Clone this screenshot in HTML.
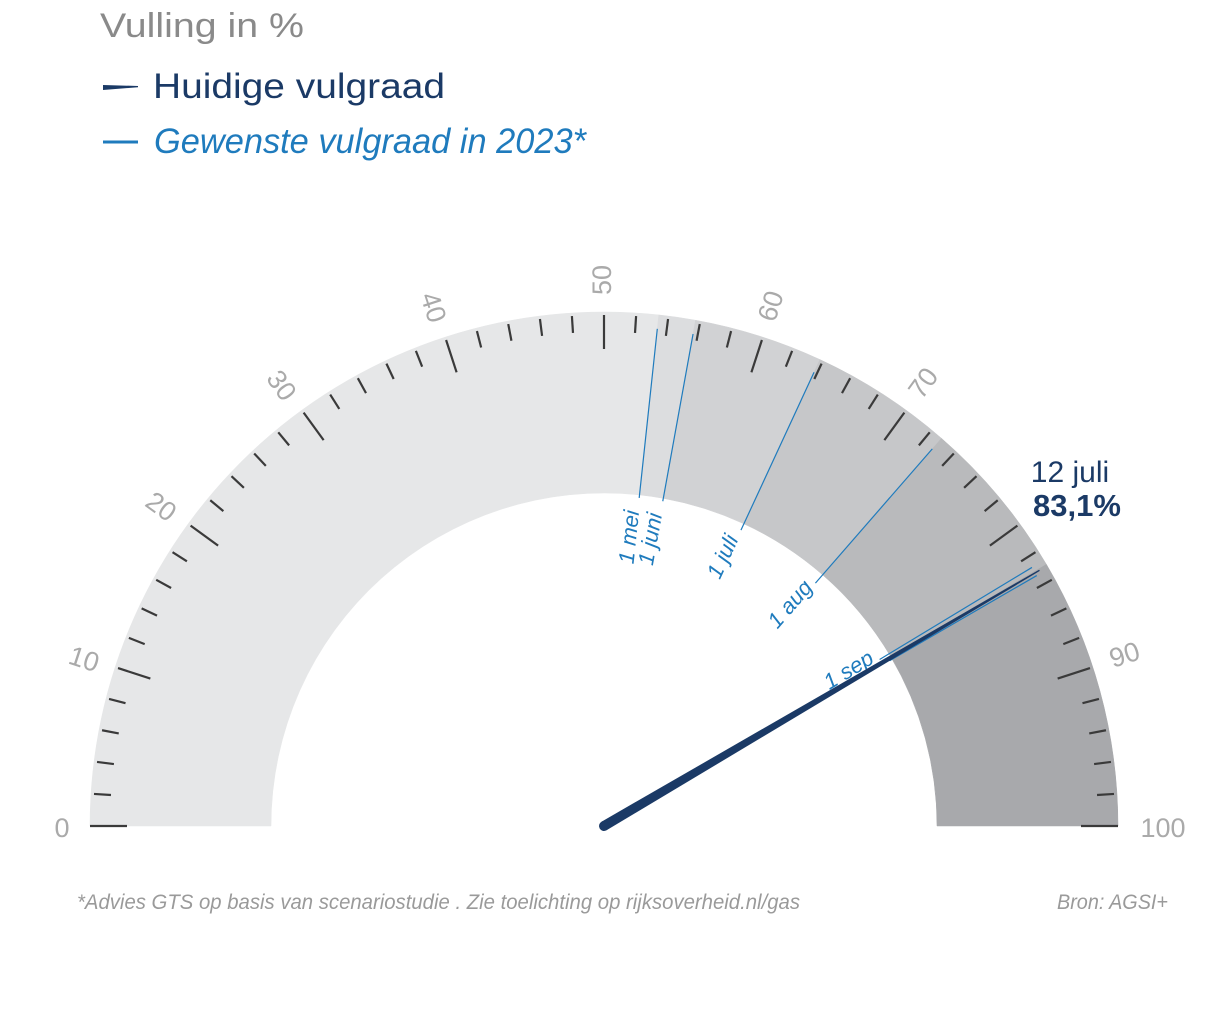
<!DOCTYPE html>
<html><head><meta charset="utf-8"><style>
html,body{margin:0;padding:0;background:#fff;}
svg{display:block;font-family:"Liberation Sans",sans-serif;}
</style></head><body>
<svg id="s" width="1210" height="1011" viewBox="0 0 1210 1011" xmlns="http://www.w3.org/2000/svg">
<rect width="1210" height="1011" fill="#fff"/>
<text x="100" y="37" font-size="34" fill="#8a8a8a" textLength="204" lengthAdjust="spacingAndGlyphs">Vulling in %</text>
<polygon points="103,85 138,86 138,87.2 103,90" fill="#1b3a66"/>
<text x="153" y="98" font-size="35" fill="#1b3a66" textLength="292" lengthAdjust="spacingAndGlyphs">Huidige vulgraad</text>
<line x1="103" y1="142" x2="138" y2="142" stroke="#1f7bbd" stroke-width="3"/>
<text x="154" y="153" font-size="35" font-style="italic" fill="#1f7bbd" textLength="432" lengthAdjust="spacingAndGlyphs">Gewenste vulgraad in 2023*</text>
<g id="bands"></g>
<g id="ticks"></g>
<g font-size="27" fill="#aaaaaa" text-anchor="middle" dominant-baseline="central">
<text x="62" y="828">0</text>
<text x="58" y="828" transform="rotate(18 604 826)">10</text>
<text x="58" y="828" transform="rotate(36 604 826)">20</text>
<text x="58" y="828" transform="rotate(54 604 826)">30</text>
<text x="58" y="828" transform="rotate(72 604 826)">40</text>
<text x="58" y="828" transform="rotate(90 604 826) rotate(180 58 828)">50</text>
<text x="58" y="828" transform="rotate(108 604 826) rotate(180 58 828)">60</text>
<text x="58" y="828" transform="rotate(126 604 826) rotate(180 58 828)">70</text>
<text x="56" y="828" transform="rotate(162 604 826) rotate(180 56 828)">90</text>
<text x="1163" y="828">100</text>
</g>
<g id="dates" stroke="#1f7bbd" stroke-width="1.2"></g>
<g font-size="22" font-style="italic" fill="#1f7bbd" text-anchor="end" dominant-baseline="central">
<text x="287" y="826" transform="rotate(96.1 604 826) rotate(180 287 826) translate(0 -6)">1 mei</text>
<text x="287" y="826" transform="rotate(100.3 604 826) rotate(180 287 826) translate(0 -6)">1 juni</text>
<text x="287" y="826" transform="rotate(114.9 604 826) rotate(180 287 826) translate(0 -6)">1 juli</text>
<text x="287" y="826" transform="rotate(131.1 604 826) rotate(180 287 826) translate(0 -6)">1 aug</text>
<text x="287" y="826" transform="rotate(148.6 604 826) rotate(180 287 826) translate(0 -6)">1 sep</text>
</g>
<g transform="rotate(149.58 604 826)">
<polygon points="604,821 99,825.3 99,826.7 604,831" fill="#1b3a66"/>
<circle cx="604" cy="826" r="5" fill="#1b3a66"/>
</g>
<text x="1070" y="482" font-size="30" fill="#1b3a66" text-anchor="middle">12 juli</text>
<text x="1077" y="516" font-size="31" font-weight="bold" fill="#1b3a66" text-anchor="middle">83,1%</text>
<text x="77" y="909" font-size="21" font-style="italic" fill="#9a9a9a" textLength="723" lengthAdjust="spacingAndGlyphs">*Advies GTS op basis van scenariostudie . Zie toelichting op rijksoverheid.nl/gas</text>
<text x="1168" y="909" font-size="21" font-style="italic" fill="#9a9a9a" text-anchor="end" textLength="111" lengthAdjust="spacingAndGlyphs">Bron: AGSI+</text>
</svg>
<script>
(function(){
var NS="http://www.w3.org/2000/svg",cx=604,cy=826,R=514,r=333;
function pt(v,rad){var t=Math.PI-v*1.8*Math.PI/180;return [cx+rad*Math.cos(t),cy-rad*Math.sin(t)];}
function el(n,a,p){var e=document.createElementNS(NS,n);for(var k in a)e.setAttribute(k,a[k]);p.appendChild(e);return e;}
var bands=[[0,53.4,"#e6e7e8"],[53.4,55.7,"#dcdddf"],[55.7,63.8,"#d1d2d4"],[63.8,72.8,"#c6c7c9"],[72.8,83,"#b9babc"],[83,100,"#a8a9ac"]];
var bg=document.getElementById("bands");
bands.forEach(function(b){var a=pt(b[0],R),c=pt(b[1],R),d=pt(b[1],r),e=pt(b[0],r);
el("path",{d:"M"+a+" A"+R+" "+R+" 0 0 1 "+c+" L"+d+" A"+r+" "+r+" 0 0 0 "+e+"Z",fill:b[2],stroke:b[2],"stroke-width":0.5},bg);});
var tg=document.getElementById("ticks");
for(var v=0;v<=100;v+=2){var maj=v%10==0;var o=(v==0||v==100)?R:R-3;var a=pt(v,o),b=pt(v,R-(maj?37:20));
el("line",{x1:a[0],y1:a[1],x2:b[0],y2:b[1],stroke:"#3a3a3a","stroke-width":2.2},tg);}
var dg=document.getElementById("dates");
[[53.4,330],[55.7,330],[63.8,326],[72.8,322],[82.7,322],[83.3,330]].forEach(function(d){var a=pt(d[0],d[1]),b=pt(d[0],500);
el("line",{x1:a[0],y1:a[1],x2:b[0],y2:b[1]},dg);});
})();
</script>
</body></html>
